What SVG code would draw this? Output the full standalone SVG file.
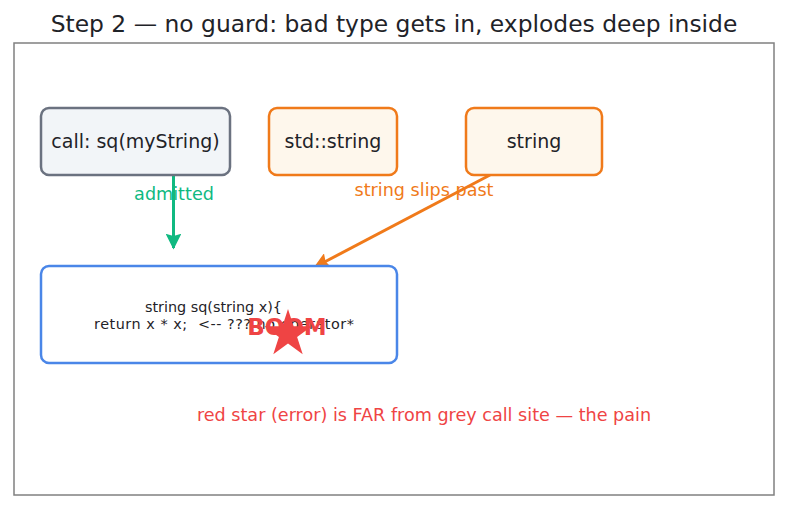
<svg xmlns="http://www.w3.org/2000/svg" width="787" height="510" viewBox="0 0 787 510">
<style>
text{font-family:"DejaVu Sans","Noto Sans",sans-serif;white-space:pre;}
.node{stroke-width:2.5;}
.lbl{font-size:19px;fill:#1f2328;text-anchor:middle;}
.code{font-size:14.4px;fill:#1f2328;}
</style>
<defs>
<marker id="ahg" viewBox="0 0 10 10" refX="9" refY="5" markerWidth="5.3" markerHeight="5.3" orient="auto"><path d="M0,0 L10,5 L0,10 L1.5,5 z" fill="#10b981"/></marker>
<marker id="aho" viewBox="0 0 10 10" refX="9" refY="5" markerWidth="5.3" markerHeight="5.3" orient="auto"><path d="M0,0 L10,5 L0,10 L1.5,5 z" fill="#f07a1a"/></marker>
</defs>
<rect width="787" height="510" fill="#ffffff"/>
<text x="394" y="32" font-size="23.4" fill="#1f2328" text-anchor="middle">Step 2 — no guard: bad type gets in, explodes deep inside</text>
<rect x="14" y="43" width="760" height="452" fill="none" stroke="#808080" stroke-width="1.5"/>
<g id="connectors">
<line x1="173.5" y1="175" x2="173.5" y2="248" stroke="#10b981" stroke-width="3" marker-end="url(#ahg)"/>
<text x="174" y="200" font-size="17.6" fill="#10b981" text-anchor="middle">admitted</text>
<line x1="490" y1="175" x2="315" y2="267" stroke="#f07a1a" stroke-width="3" marker-end="url(#aho)"/>
<text x="424" y="196" font-size="17.6" fill="#f07a1a" text-anchor="middle">string slips past</text>
</g>
<g id="call">
<rect class="node" x="41" y="108" width="189" height="67" rx="8" fill="#f2f5f8" stroke="#6b7280"/>
<text class="lbl" x="135.5" y="148">call: sq(myString)</text>
</g>
<g id="stdstring">
<rect class="node" x="269" y="108" width="128" height="67" rx="8" fill="#fef7ec" stroke="#f07a1a"/>
<text class="lbl" x="333" y="148">std::string</text>
</g>
<g id="string">
<rect class="node" x="466" y="108" width="136" height="67" rx="8" fill="#fef7ec" stroke="#f07a1a"/>
<text class="lbl" x="534" y="148">string</text>
</g>
<g id="sq">
<rect class="node" x="41" y="266" width="356" height="97" rx="8" fill="#ffffff" stroke="#4a86e8"/>
<text class="code" x="145" y="311.5" textLength="137" lengthAdjust="spacing">string sq(string x){</text>
<text class="code" x="94" y="328.5" textLength="260" lengthAdjust="spacing">return x * x;  &lt;-- ??? no operator*</text>
</g>
<g id="boom">
<polygon points="288,309 293.6,326.3 311.8,326.3 297.1,337 302.7,354.2 288,343.6 273.3,354.2 278.9,337 264.2,326.3 282.4,326.3" fill="#ef4444"/>
<text x="287" y="335" font-size="23" font-weight="bold" fill="#ef4444" text-anchor="middle">BOOM</text>
</g>
<text x="424" y="421" font-size="17.6" fill="#ef4444" text-anchor="middle">red star (error) is FAR from grey call site — the pain</text>
</svg>
